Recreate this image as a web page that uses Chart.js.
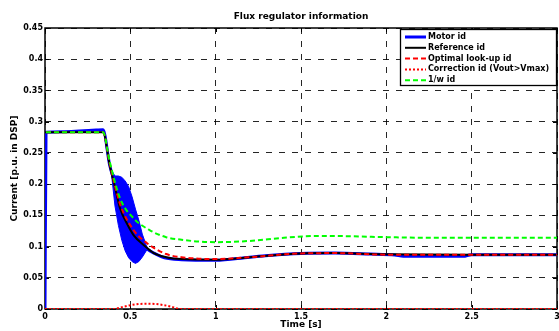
<!DOCTYPE html>
<html>
<head>
<meta charset="utf-8">
<script src="https://cdn.jsdelivr.net/npm/chart.js@4/dist/chart.umd.min.js"></script>
<style>
  html,body{margin:0;padding:0;background:#fff}
  #wrap{width:559px;height:331px;position:relative}
</style>
</head>
<body>
<div id="wrap"><canvas id="c"></canvas></div>
<script>
// ---- data (time in s, current in p.u.) ----
const T_MOTOR = [0, 0.006, 0.1, 0.2, 0.3, 0.34, 0.38, 0.44, 0.5, 0.56, 0.6, 0.65, 0.7, 0.8, 1.0, 1.2, 1.5, 1.7, 1.9, 2.05, 2.1, 2.45, 2.5, 3.0];
const MOTOR_ID = [0, 0.283, 0.284, 0.285, 0.2865, 0.287, 0.229, 0.18, 0.14, 0.11, 0.096, 0.088, 0.082, 0.079, 0.078, 0.083, 0.089, 0.0895, 0.088, 0.0865, 0.0845, 0.0845, 0.087, 0.087];

// oscillation envelope of motor id during the transient
const T_BAND  = [0.39, 0.41, 0.43, 0.45, 0.47, 0.49, 0.51, 0.53, 0.55, 0.57, 0.60];
const BAND_HI = [0.222, 0.213, 0.213, 0.211, 0.205, 0.196, 0.18, 0.16, 0.142, 0.12, 0.097];
const BAND_LO = [0.215, 0.165, 0.134, 0.11, 0.093, 0.082, 0.076, 0.073, 0.076, 0.083, 0.096];

const T_REF  = [0, 0.34, 0.38, 0.41, 0.44, 0.48, 0.52, 0.58, 0.635, 0.71, 0.8, 1.0, 1.2, 1.5, 1.7, 2.0, 2.5, 3.0];
const REF_ID = [0.283, 0.283, 0.229, 0.195, 0.161, 0.137, 0.118, 0.102, 0.090, 0.083, 0.080, 0.079, 0.083, 0.089, 0.0895, 0.0875, 0.087, 0.087];

const T_OPT  = [0.006, 0.34, 0.38, 0.44, 0.52, 0.6, 0.71, 0.8, 1.0, 1.2, 1.5, 1.7, 2.0, 2.5, 3.0];
const OPT_ID = [0.283, 0.283, 0.232, 0.168, 0.126, 0.105, 0.088, 0.083, 0.080, 0.083, 0.089, 0.0895, 0.087, 0.087, 0.087];

const T_CORR  = [0, 0.4, 0.45, 0.5, 0.55, 0.6, 0.65, 0.7, 0.75, 0.79, 3.0];
const CORR_ID = [0, 0, 0.003, 0.006, 0.008, 0.0085, 0.008, 0.006, 0.003, 0, 0];

const T_W  = [0.006, 0.34, 0.38, 0.44, 0.52, 0.615, 0.71, 0.8, 0.9, 1.0, 1.2, 1.4, 1.6, 1.8, 2.0, 2.3, 2.6, 3.0];
const W_ID = [0.283, 0.283, 0.235, 0.177, 0.145, 0.126, 0.115, 0.111, 0.108, 0.107, 0.109, 0.114, 0.117, 0.1165, 0.115, 0.114, 0.114, 0.114];

const LEGEND = ['Motor id', 'Reference id', 'Optimal look-up id', 'Correction id (Vout>Vmax)', '1/w id'];
const X_TICKS = [0, 0.5, 1, 1.5, 2, 2.5, 3];

const pts = (xs, ys) => xs.map((x, i) => ({x, y: ys[i]}));
const FAM = '"DejaVu Sans", Arial, sans-serif';

// series styles, also used by the legend box
const STY = [
  {color:'#0000ff', width:3,   dash:[]},
  {color:'#000000', width:2,   dash:[]},
  {color:'#ff0000', width:2,   dash:[5,3]},
  {color:'#ff0000', width:2,   dash:[2,2]},
  {color:'#00ff00', width:2,   dash:[5,3]},
];

// frame + inside ticks (matlab style), drawn under the data
const framePlugin = {
  id:'frame',
  beforeDatasetsDraw(chart){
    const {ctx, chartArea:a, scales:{x, y}} = chart;
    ctx.save();
    ctx.setLineDash([]);
    ctx.strokeStyle = '#000';
    ctx.lineWidth = 1;
    X_TICKS.forEach(v=>{
      const px = Math.round(x.getPixelForValue(v)) + 0.5;
      ctx.beginPath(); ctx.moveTo(px, a.bottom); ctx.lineTo(px, a.bottom-4);
      ctx.moveTo(px, a.top); ctx.lineTo(px, a.top+4); ctx.stroke();
    });
    for(let i=0;i<=9;i++){
      const py = Math.round(y.getPixelForValue(i*0.05)) + 0.5;
      ctx.beginPath(); ctx.moveTo(a.left, py); ctx.lineTo(a.left+4, py);
      ctx.moveTo(a.right, py); ctx.lineTo(a.right-4, py); ctx.stroke();
    }
    ctx.lineWidth = 1.5;
    ctx.strokeRect(a.left, a.top, a.right-a.left, a.bottom-a.top);
    ctx.restore();
  },
  afterDraw(chart){
    const {ctx, chartArea:a} = chart;
    ctx.save();
    // title
    ctx.fillStyle = '#000';
    ctx.font = `bold 9px ${FAM}`;
    ctx.textAlign = 'center'; ctx.textBaseline = 'middle';
    ctx.fillText('Flux regulator information', (a.left+a.right)/2, 17);
    // legend box
    const bx = 400.5, by = 29.5, bw = 156, bh = 56;
    ctx.fillStyle = '#fff';
    ctx.fillRect(bx, by, bw, bh);
    ctx.setLineDash([]);
    ctx.lineWidth = 1.3; ctx.strokeStyle = '#000';
    ctx.strokeRect(bx, by, bw, bh);
    ctx.font = `bold 8px ${FAM}`;
    ctx.textAlign = 'left';
    LEGEND.forEach((lab, i)=>{
      const ry = 37 + i*10.8;
      const s = STY[i];
      ctx.beginPath();
      ctx.setLineDash(s.dash);
      ctx.strokeStyle = s.color; ctx.lineWidth = s.width;
      ctx.moveTo(405, ry); ctx.lineTo(426, ry); ctx.stroke();
      ctx.setLineDash([]);
      ctx.fillStyle = '#000';
      ctx.fillText(lab, 428, ry);
    });
    ctx.restore();
  }
};

const line = (label, data, s, order) => ({
  label, data, borderColor:s.color, borderWidth:s.width, borderDash:s.dash,
  pointRadius:0, fill:false, cubicInterpolationMode:'monotone', order
});

new Chart(document.getElementById('c'), {
  type:'line',
  data:{
    datasets:[
      {label:'band hi', data:pts(T_BAND, BAND_HI), borderColor:'#0000ff', borderWidth:1,
       backgroundColor:'#0000ff', fill:'+1', pointRadius:0, tension:0, order:10},
      {label:'band lo', data:pts(T_BAND, BAND_LO), borderColor:'#0000ff', borderWidth:1,
       pointRadius:0, fill:false, tension:0, order:10},
      line(LEGEND[0], pts(T_MOTOR, MOTOR_ID), STY[0], 9),
      line(LEGEND[1], pts(T_REF, REF_ID), STY[1], 8),
      line(LEGEND[2], pts(T_OPT, OPT_ID), STY[2], 7),
      line(LEGEND[3], pts(T_CORR, CORR_ID), STY[3], 6),
      line(LEGEND[4], pts(T_W, W_ID), STY[4], 5),
    ]
  },
  options:{
    responsive:true, maintainAspectRatio:false, animation:false,
    layout:{padding:{top:28, right:2, left:0, bottom:0}, autoPadding:false},
    plugins:{legend:{display:false}, tooltip:{enabled:false}},
    scales:{
      x:{type:'linear', min:0, max:3,
         afterBuildTicks:s=>{ s.ticks = X_TICKS.map(v=>({value:v})); },
         ticks:{color:'#000', padding:3, maxRotation:0, autoSkip:false,
                font:{family:FAM, size:8, weight:'bold'},
                callback:v=>String(+(+v).toFixed(2))},
         grid:{color:'rgba(0,0,0,0.85)', lineWidth:1, drawTicks:false},
         border:{display:false, dash:[6,7]},
         title:{display:true, text:'Time [s]', color:'#000', padding:{top:0,bottom:1},
                font:{family:FAM, size:9, weight:'bold'}},
         afterFit:s=>{ s.height = 22; s.paddingLeft = 0; s.paddingRight = 0; }},
      y:{min:0, max:0.45,
         ticks:{stepSize:0.05, color:'#000', padding:2,
                font:{family:FAM, size:8, weight:'bold'},
                callback:v=>String(+v.toFixed(2))},
         grid:{color:'rgba(0,0,0,0.85)', lineWidth:1, drawTicks:false},
         border:{display:false, dash:[6,7]},
         title:{display:true, text:'Current [p.u. in DSP]', color:'#000', padding:{top:9,bottom:0},
                font:{family:FAM, size:9, weight:'bold'}},
         afterFit:s=>{ s.width = 45; s.paddingTop = 0; s.paddingBottom = 0; }}
    }
  },
  plugins:[framePlugin]
});
</script>
</body>
</html>
